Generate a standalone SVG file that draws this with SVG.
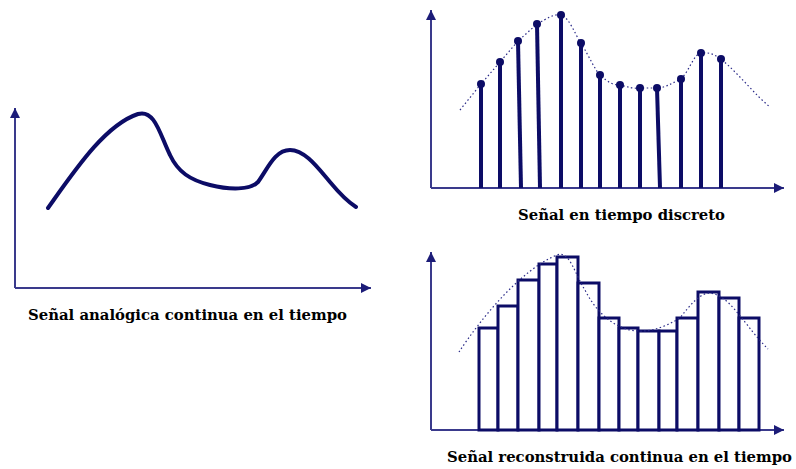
<svg xmlns="http://www.w3.org/2000/svg" width="796" height="469" viewBox="0 0 796 469">
<defs>
<marker id="ah" markerUnits="userSpaceOnUse" markerWidth="12" markerHeight="10" refX="10" refY="5" orient="auto">
<path d="M0,0 L10,5 L0,10 Z" fill="#1c1c78"/>
</marker>
<style>
.ax{stroke:#3a3a8c;stroke-width:2;fill:none;marker-end:url(#ah)}
.sig{stroke:#0c0c66;stroke-width:4;fill:none;stroke-linecap:round;stroke-linejoin:round}
.dot{stroke:#2a2a88;stroke-width:1.2;fill:none;stroke-dasharray:1.5 2.5}
.stem{stroke:#0c0c66;stroke-width:4}
.pt{fill:#0c0c66}
.bar{stroke:#0c0c66;stroke-width:3;fill:#fff}
.lbl{font-weight:bold;font-size:15px;fill:#000}
</style>
</defs>
<rect width="796" height="469" fill="#fff"/>

<g id="analog">
<path class="ax" d="M15,288 L15,108"/>
<path class="ax" d="M15,288 L371,288"/>
<path class="sig" d="M48,208 C75,170 105,125 138,114 C155,109 160,135 170,155 C178,172 190,180 210,185 C230,190 250,190 258,182 C268,168 275,150 290,150 C305,150 318,168 330,182 C340,194 348,202 356,207"/>
<text class="lbl" font-family="DejaVu Serif, Liberation Serif, serif" x="28" y="320" textLength="319" lengthAdjust="spacingAndGlyphs">Señal analógica continua en el tiempo</text>
</g>

<g id="discrete">
<path class="ax" d="M431,188 L431,10"/>
<path class="ax" d="M431,188 L784,188"/>
<path class="dot" d="M460,110 L481,84 L500,62 L518,41 L537,24 C548,18 553,14 561,15 C570,18 575,35 581,43 C590,58 595,70 600,75 C608,82 612,85 620,85 C628,87 635,89 640,88 L657,88 C665,88 672,83 681,79 C690,70 693,55 701,53 C710,52 715,55 721,59 C740,75 755,95 770,107"/>
<g>
<line class="stem" x1="481" y1="188" x2="481" y2="84"/>
<line class="stem" x1="500" y1="188" x2="500" y2="62"/>
<line class="stem" x1="521" y1="188" x2="518" y2="41"/>
<line class="stem" x1="540" y1="188" x2="537" y2="24"/>
<line class="stem" x1="561" y1="188" x2="561" y2="15"/>
<line class="stem" x1="581" y1="188" x2="581" y2="43"/>
<line class="stem" x1="600" y1="188" x2="600" y2="75"/>
<line class="stem" x1="620" y1="188" x2="620" y2="85"/>
<line class="stem" x1="640" y1="188" x2="640" y2="88"/>
<line class="stem" x1="660" y1="188" x2="657" y2="88"/>
<line class="stem" x1="681" y1="188" x2="681" y2="79"/>
<line class="stem" x1="701" y1="188" x2="701" y2="53"/>
<line class="stem" x1="721" y1="188" x2="721" y2="59"/>
</g>
<g>
<circle class="pt" cx="481" cy="84" r="4"/>
<circle class="pt" cx="500" cy="62" r="4"/>
<circle class="pt" cx="518" cy="41" r="4"/>
<circle class="pt" cx="537" cy="24" r="4"/>
<circle class="pt" cx="561" cy="15" r="4"/>
<circle class="pt" cx="581" cy="43" r="4"/>
<circle class="pt" cx="600" cy="75" r="4"/>
<circle class="pt" cx="620" cy="85" r="4"/>
<circle class="pt" cx="640" cy="88" r="4"/>
<circle class="pt" cx="657" cy="88" r="4"/>
<circle class="pt" cx="681" cy="79" r="4"/>
<circle class="pt" cx="701" cy="53" r="4"/>
<circle class="pt" cx="721" cy="59" r="4"/>
</g>
<text class="lbl" font-family="DejaVu Serif, Liberation Serif, serif" x="518" y="220" textLength="207" lengthAdjust="spacingAndGlyphs">Señal en tiempo discreto</text>
</g>

<g id="reconstructed">
<path class="ax" d="M431,430 L431,252"/>
<path class="ax" d="M431,430 L784,430"/>
<g>
<rect class="bar" x="479" y="328" width="19" height="102"/>
<rect class="bar" x="498" y="306" width="20" height="124"/>
<rect class="bar" x="518" y="280" width="21" height="150"/>
<rect class="bar" x="539" y="264" width="18" height="166"/>
<rect class="bar" x="557" y="257" width="21" height="173"/>
<rect class="bar" x="578" y="283" width="21" height="147"/>
<rect class="bar" x="599" y="318" width="20" height="112"/>
<rect class="bar" x="619" y="328" width="19" height="102"/>
<rect class="bar" x="638" y="331" width="21" height="99"/>
<rect class="bar" x="659" y="331" width="18" height="99"/>
<rect class="bar" x="677" y="318" width="21" height="112"/>
<rect class="bar" x="698" y="292" width="21" height="138"/>
<rect class="bar" x="719" y="298" width="20" height="132"/>
<rect class="bar" x="739" y="318" width="20" height="112"/>
</g>
<path class="dot" d="M459,352 C480,320 520,270 557,255 C570,250 575,275 585,290 C595,310 610,325 630,330 C645,333 660,330 680,318 C690,305 700,293 710,293 C725,295 735,310 745,322 C755,335 762,343 768,349"/>
<text class="lbl" font-family="DejaVu Serif, Liberation Serif, serif" x="447" y="462" textLength="345" lengthAdjust="spacingAndGlyphs">Señal reconstruida continua en el tiempo</text>
</g>
</svg>
